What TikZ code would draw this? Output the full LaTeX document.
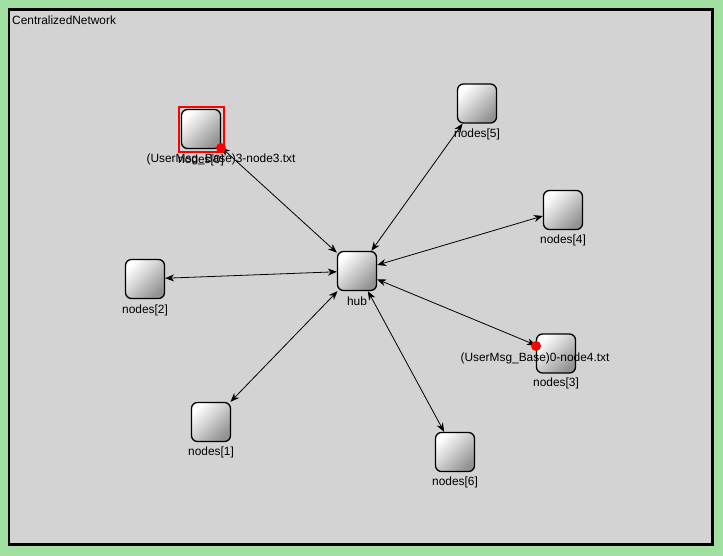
\documentclass[tikz,border=0pt]{standalone}
\usepackage{fontspec}
\setmainfont{Liberation Sans}
\usetikzlibrary{arrows.meta}
\definecolor{bggreen}{RGB}{160,224,160}
\definecolor{panel}{RGB}{211,211,211}
\begin{document}
\begin{tikzpicture}[x=1pt,y=-1pt,
  mod/.style={draw=black, line width=1.3pt, rounded corners=6pt, minimum width=39pt, minimum height=39pt, inner sep=0pt, top color=white, bottom color=gray!85, shading angle=45},
  lbl/.style={font=\fontsize{11.9}{13}\selectfont, inner sep=0pt},
  link/.style={line width=0.8pt, {Stealth[length=9pt,width=7pt]}-{Stealth[length=9pt,width=7pt]}},
  msg/.style={circle, fill=red, inner sep=0pt, minimum size=10pt}]
\useasboundingbox (0,0) rectangle (723,556);
\fill[bggreen] (0,0) rectangle (723,556);
\draw[line width=2.5pt, fill=panel] (9,9.5) rectangle (712.5,544.5);
\node[lbl, anchor=base west] (title) at (12,25) {CentralizedNetwork};
% modules
\node[mod] (n0) at (201,129) {};
\node[mod] (n5) at (477,103.5) {};
\node[mod] (n4) at (563,210) {};
\node[mod] (n2) at (145,279) {};
\node[mod] (hub) at (357,271) {};
\node[mod] (n3) at (556,353.5) {};
\node[mod] (n1) at (211,422) {};
\node[mod] (n6) at (455,452) {};
\node[draw=red, line width=1.5pt, minimum size=45pt, inner sep=0pt] (sel) at (201.5,129.5) {};
% labels
\node[lbl] (l0) at (201,160) {nodes[0]};
\node[lbl] (l5) at (477,134.5) {nodes[5]};
\node[lbl] (l4) at (563,240.5) {nodes[4]};
\node[lbl] (l2) at (145,310) {nodes[2]};
\node[lbl] (lh) at (357,301.5) {hub};
\node[lbl] (l3) at (556,383.5) {nodes[3]};
\node[lbl] (l1) at (211,452.5) {nodes[1]};
\node[lbl] (l6) at (455,482.5) {nodes[6]};
% links
\draw[link] (hub) -- (n0);
\draw[link] (hub) -- (n5);
\draw[link] (hub) -- (n4);
\draw[link] (hub) -- (n2);
\draw[link] (hub) -- (n3);
\draw[link] (hub) -- (n1);
\draw[link] (hub) -- (n6);
% messages
\node[msg] (m0) at (221,148) {};
\node[msg] (m1) at (536,346) {};
\node[lbl] (ml0) at (221,159.5) {(UserMsg\_Base)3-node3.txt};
\node[lbl] (ml1) at (535,358.5) {(UserMsg\_Base)0-node4.txt};
\end{tikzpicture}
\end{document}
